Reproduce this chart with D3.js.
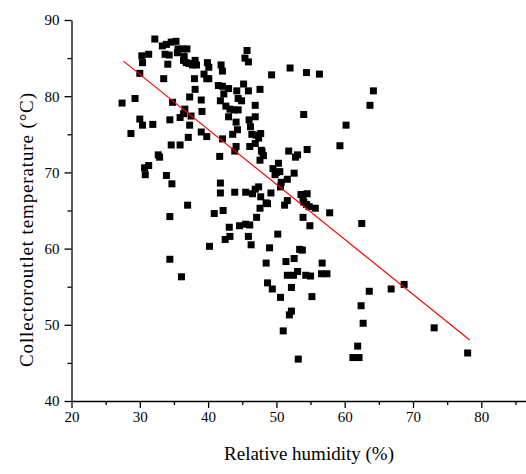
<!DOCTYPE html>
<html>
<head>
<meta charset="utf-8">
<script src="https://cdn.jsdelivr.net/npm/d3@7"></script>
<style>
  body { margin: 0; background: #fff; }
  text { font-family: "Liberation Serif", "Times New Roman", serif; fill: #000; }
</style>
</head>
<body>
<div id="chart"></div>
<script>
// relative humidity (%) of each sample
var humidity = [
  32.2, 33.3, 33.9, 34.6, 35.3, 30.3, 31.3, 30.4, 33.7, 34.3, 35.6, 36.3, 36.9, 35.5, 36.5, 36.4, 36.8, 37.2, 37.7, 38.3,
  38.1, 39.9, 40.1, 41.9, 34.1, 30.0, 33.5, 38.0, 39.4, 39.8, 40.1, 41.5, 38.1, 37.3, 27.4, 29.3, 34.8, 39.0, 41.8, 36.6,
  36.4, 35.9, 37.5, 39.1, 30.0, 30.4, 31.9, 34.4, 37.3, 28.7, 37.1, 39.0, 39.8, 34.6, 35.9, 45.7, 45.4, 45.9, 42.1, 49.3,
  52.0, 54.4, 56.3, 42.1, 43.0, 45.2, 44.2, 45.9, 47.6, 42.3, 44.4, 44.9, 42.6, 43.2, 43.8, 44.4, 46.9, 43.0, 46.9, 46.0,
  44.1, 46.2, 54.0, 60.2, 44.3, 43.6, 46.4, 47.0, 47.7, 47.4, 42.1, 46.9, 44.1, 46.1, 47.8, 51.8, 54.5, 59.3, 64.2, 63.7,
  62.5, 32.7, 32.9, 30.7, 31.3, 30.8, 33.9, 34.7, 41.7, 41.8, 41.8, 37.0, 34.4, 40.9, 40.2, 34.4, 36.1, 43.9, 47.9, 48.1,
  47.6, 53.1, 52.8, 50.3, 49.5, 50.0, 50.5, 49.8, 52.6, 51.6, 50.7, 50.6, 43.9, 45.5, 46.5, 46.9, 47.4, 47.7, 49.2, 53.6,
  54.5, 53.9, 54.0, 54.4, 54.8, 51.6, 51.2, 48.5, 48.7, 55.7, 57.8, 42.2, 47.6, 47.1, 53.9, 54.9, 43.1, 44.6, 45.5, 46.1,
  42.5, 43.2, 45.9, 46.3, 50.2, 49.0, 53.4, 53.8, 48.5, 51.4, 52.6, 56.7, 51.6, 52.5, 53.1, 54.3, 55.0, 56.6, 57.4, 48.7,
  49.4, 50.6, 52.2, 55.2, 52.2, 51.9, 51.0, 53.2, 63.6, 62.4, 62.7, 61.9, 61.2, 62.1, 66.8, 68.7, 73.1, 78.0
];
// collector outlet temperature (°C) of each sample
var outletTemp = [
  87.5, 86.6, 86.8, 87.1, 87.2, 85.3, 85.5, 84.4, 85.5, 85.4, 86.2, 86.2, 86.2, 85.7, 85.2, 84.7, 84.4, 84.3, 84.1, 84.1,
  84.7, 84.4, 83.8, 84.1, 84.2, 83.0, 82.3, 82.3, 82.9, 82.3, 82.3, 81.4, 80.9, 79.9, 79.1, 79.7, 79.2, 79.5, 79.4, 78.3,
  77.7, 77.2, 77.4, 78.0, 77.0, 76.2, 76.3, 76.9, 76.2, 75.1, 74.6, 75.3, 74.7, 73.6, 73.6, 86.0, 85.0, 84.5, 83.3, 82.8,
  83.7, 83.1, 82.9, 81.3, 81.0, 81.6, 80.7, 80.7, 80.9, 80.3, 79.7, 79.4, 78.7, 78.3, 78.2, 78.2, 78.8, 77.3, 77.3, 76.9,
  76.6, 76.0, 77.6, 76.2, 75.6, 75.0, 75.0, 74.9, 75.1, 74.5, 74.4, 73.8, 73.4, 73.4, 72.9, 72.8, 73.0, 73.5, 80.7, 78.8,
  63.3, 72.3, 72.0, 70.6, 70.9, 69.7, 69.6, 68.5, 72.1, 68.6, 67.3, 65.7, 64.2, 64.6, 60.3, 58.6, 56.3, 72.8, 72.7, 72.2,
  71.6, 72.3, 72.0, 71.2, 70.5, 70.0, 70.1, 69.7, 69.9, 69.1, 68.7, 68.1, 67.4, 67.4, 67.2, 67.8, 68.1, 66.8, 67.3, 67.1,
  67.2, 66.6, 66.1, 65.8, 65.5, 66.3, 65.7, 66.0, 65.9, 65.3, 64.7, 65.0, 65.3, 64.1, 64.1, 63.0, 62.8, 63.0, 63.2, 63.1,
  61.2, 61.6, 61.6, 60.5, 61.9, 60.1, 59.9, 59.8, 58.1, 58.3, 58.7, 58.1, 56.5, 56.5, 57.0, 56.5, 56.4, 56.7, 56.7, 55.5,
  54.7, 53.6, 54.9, 53.7, 51.8, 51.3, 49.2, 45.5, 54.4, 52.5, 50.2, 47.2, 45.7, 45.7, 54.7, 55.3, 49.6, 46.3
];

// linear fit, ends
var fitX = [27.6, 78.3];
var fitY = [84.6, 48.0];

var xMajor = [20, 30, 40, 50, 60, 70, 80];
var xMinor = [25, 35, 45, 55, 65, 75, 85];
var yMajor = [40, 50, 60, 70, 80, 90];
var yMinor = [45, 55, 65, 75, 85];

function drawChart() {
    var width = 526, height = 474;
    var plotLeft = 71.5, plotTop = 20, plotBottom = 401;

    var svg = d3.select('#chart').append('svg')
        .attr('width', width)
        .attr('height', height);

    var x = d3.scaleLinear().domain([20, 90]).range([plotLeft, plotLeft + 70 * 6.83]);
    var y = d3.scaleLinear().domain([40, 90]).range([plotBottom, plotTop]);

    function styleText(g) {
        g.attr('font-size', null).attr('font-family', null);
        g.selectAll('text').style('font-size', '15px');
    }

    // axes: major ticks with labels, minor ticks without
    svg.append('g')
        .attr('transform', 'translate(0,' + plotBottom + ')')
        .call(d3.axisBottom(x).tickValues(xMajor).tickSize(7).tickSizeOuter(0).tickPadding(3).tickFormat(d3.format('d')))
        .call(styleText);
    svg.append('g')
        .attr('transform', 'translate(0,' + plotBottom + ')')
        .call(d3.axisBottom(x).tickValues(xMinor).tickSize(4).tickSizeOuter(0).tickFormat(''))
        .call(function (g) { g.select('.domain').remove(); });

    svg.append('g')
        .attr('transform', 'translate(' + plotLeft + ',0)')
        .call(d3.axisLeft(y).tickValues(yMajor).tickSize(7).tickSizeOuter(0).tickPadding(5).tickFormat(d3.format('d')))
        .call(styleText);
    svg.append('g')
        .attr('transform', 'translate(' + plotLeft + ',0)')
        .call(d3.axisLeft(y).tickValues(yMinor).tickSize(4).tickSizeOuter(0).tickFormat(''))
        .call(function (g) { g.select('.domain').remove(); });

    svg.selectAll('.domain, .tick line').attr('stroke', '#000').attr('stroke-width', 1.3);

    // points
    var pts = humidity.map(function (h, i) { return { h: h, t: outletTemp[i] }; });
    var sz = 7;
    svg.append('g')
        .selectAll('rect')
        .data(pts)
        .enter().append('rect')
        .attr('x', function (d) { return x(d.h) - sz / 2; })
        .attr('y', function (d) { return y(d.t) - sz / 2; })
        .attr('width', sz)
        .attr('height', sz)
        .attr('fill', '#000');

    // fitted line
    svg.append('line')
        .attr('x1', x(fitX[0])).attr('y1', y(fitY[0]))
        .attr('x2', x(fitX[1])).attr('y2', y(fitY[1]))
        .attr('stroke', '#ff0000')
        .attr('stroke-width', 1.2);

    // axis titles
    svg.append('text')
        .attr('x', 309)
        .attr('y', 460)
        .attr('text-anchor', 'middle')
        .style('font-size', '19px')
        .text('Relative humidity (%)');

    svg.append('text')
        .attr('transform', 'translate(33,230) rotate(-90)')
        .attr('text-anchor', 'middle')
        .attr('textLength', 274)
        .attr('lengthAdjust', 'spacing')
        .style('font-size', '19px')
        .text('Collectoroutlet temperature (°C)');
}

drawChart();
</script>
</body>
</html>
